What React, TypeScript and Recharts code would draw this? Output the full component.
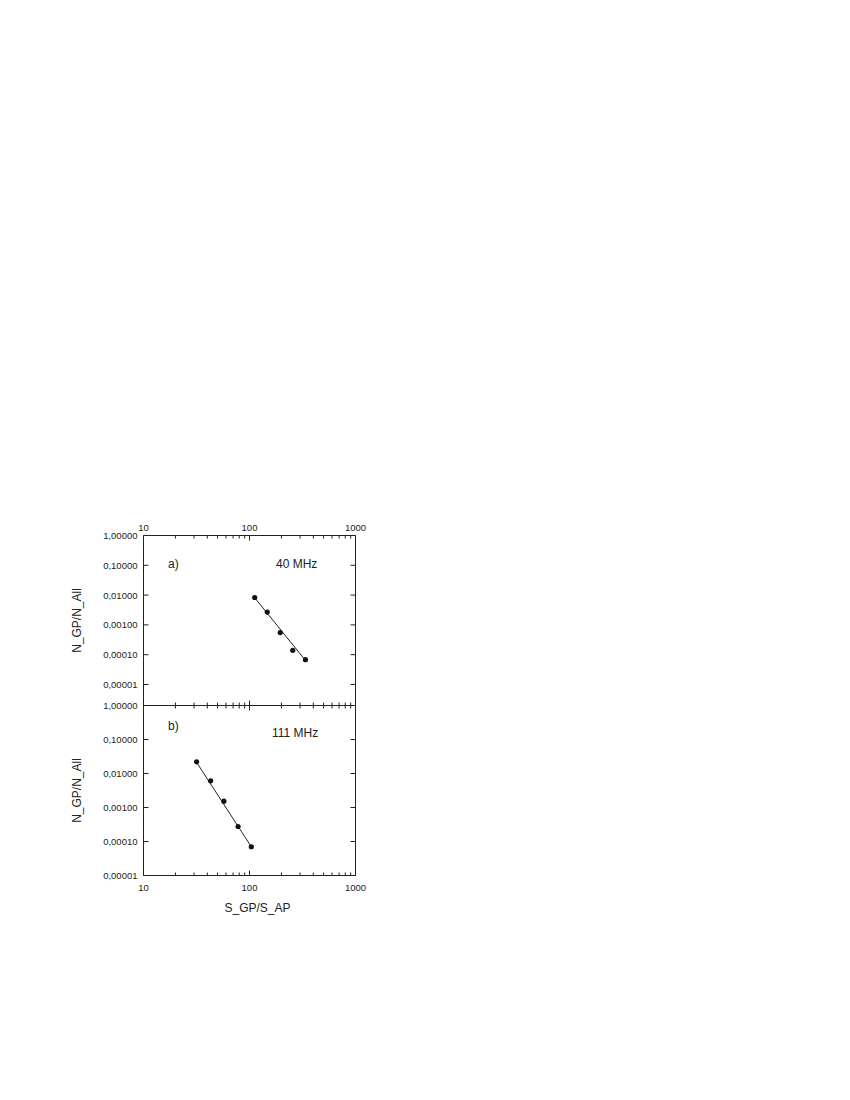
import React from "react";
import { ScatterChart, Scatter, XAxis, YAxis, Customized } from "recharts";

const xMajor = [10, 100, 1000];
const xMajorLabels = ["10", "100", "1000"];
const xMinor = [20, 30, 40, 50, 60, 70, 80, 90, 200, 300, 400, 500, 600, 700, 800, 900];
const xTicks = [...xMajor, ...xMinor].sort((a, b) => a - b);

const yMajor = [0.00001, 0.0001, 0.001, 0.01, 0.1, 1];
const yLabels = ["0,00001", "0,00010", "0,00100", "0,01000", "0,10000", "1,00000"];

// a) 40 MHz
const pts40 = [
  { x: 112, y: 0.0083 },
  { x: 147, y: 0.0027 },
  { x: 195, y: 0.00055 },
  { x: 256, y: 0.00014 },
  { x: 337, y: 0.000068 },
];
const fit40 = [
  { x: 110, y: 0.0088 },
  { x: 345, y: 0.000058 },
];

// b) 111 MHz
const pts111 = [
  { x: 31.7, y: 0.022 },
  { x: 43, y: 0.0061 },
  { x: 57.3, y: 0.00153 },
  { x: 78, y: 0.000276 },
  { x: 104, y: 0.00007 },
];
const fit111 = [
  { x: 31.5, y: 0.022 },
  { x: 104, y: 0.00007 },
];

const INK = "#222";
const FONT = "'Liberation Sans', Arial, sans-serif";
const TICK_FS = 9.5;

function xLabel(v: number) {
  const i = xMajor.indexOf(v);
  return i >= 0 ? xMajorLabels[i] : "";
}
function yLabel(v: number) {
  const i = yMajor.findIndex((m) => Math.abs(m - v) / m < 1e-6);
  return i >= 0 ? yLabels[i] : "";
}

// ticks are drawn inward, labels outward
function XTick(props: any) {
  const { x, y, payload, side, showLabel } = props;
  const major = xMajor.includes(payload.value);
  const len = major ? 5 : 3;
  const dir = side === "top" ? 1 : -1;
  return (
    <g>
      <line x1={x} x2={x} y1={y} y2={y + dir * len} stroke={INK} strokeWidth={1} />
      {showLabel && major && (
        <text
          x={x}
          y={side === "top" ? y - 5 : y + 15}
          textAnchor="middle"
          fontSize={TICK_FS}
          fontFamily={FONT}
          fill={INK}
        >
          {xLabel(payload.value)}
        </text>
      )}
    </g>
  );
}

function YTick(props: any) {
  const { x, y, payload, side, showLabel } = props;
  const dir = side === "left" ? 1 : -1;
  return (
    <g>
      <line x1={x} x2={x + dir * 5} y1={y} y2={y} stroke={INK} strokeWidth={1} />
      {showLabel && (
        <text
          x={x - 6}
          y={y + 3.5}
          textAnchor="end"
          fontSize={TICK_FS}
          fontFamily={FONT}
          fill={INK}
        >
          {yLabel(payload.value)}
        </text>
      )}
    </g>
  );
}

const Dot = (props: any) => <circle cx={props.cx} cy={props.cy} r={2.6} fill="#111" />;
const NoDot = () => <g />;

type PanelProps = {
  pts: { x: number; y: number }[];
  fit: { x: number; y: number }[];
  yMin: number;
  tag: string;
  freq: string;
  tagPos: [number, number];
  freqPos: [number, number];
  topLabels: boolean;
  bottomLabels: boolean;
  margin: { top: number; right: number; bottom: number; left: number };
  height: number;
  topH: number;
  bottomH: number;
};

function Panel(p: PanelProps) {
  return (
    <ScatterChart width={400} height={p.height} margin={p.margin}>
      <XAxis
        xAxisId="t"
        orientation="top"
        dataKey="x"
        type="number"
        scale="log"
        domain={[10, 1000]}
        allowDataOverflow
        ticks={xTicks}
        interval={0}
        height={p.topH}
        tickSize={0}
        tickMargin={0}
        tickLine={false}
        axisLine={{ stroke: INK }}
        tick={(t: any) => <XTick {...t} side="top" showLabel={p.topLabels} />}
      />
      <XAxis
        xAxisId="b"
        orientation="bottom"
        dataKey="x"
        type="number"
        scale="log"
        domain={[10, 1000]}
        allowDataOverflow
        ticks={xTicks}
        interval={0}
        height={p.bottomH}
        tickSize={0}
        tickMargin={0}
        tickLine={false}
        axisLine={{ stroke: INK }}
        tick={(t: any) => <XTick {...t} side="bottom" showLabel={p.bottomLabels} />}
        label={
          p.bottomLabels
            ? {
                value: "S_GP/S_AP",
                position: "insideBottom",
                offset: 0,
                dx: 8,
                fontSize: 12,
                fontFamily: FONT,
                fill: INK,
              }
            : undefined
        }
      />
      <YAxis
        yAxisId="l"
        orientation="left"
        dataKey="y"
        type="number"
        scale="log"
        domain={[p.yMin, 1]}
        allowDataOverflow
        ticks={yMajor}
        interval={0}
        width={100}
        tickSize={0}
        tickMargin={0}
        tickLine={false}
        axisLine={{ stroke: INK }}
        tick={(t: any) => <YTick {...t} side="left" showLabel />}
        label={{
          value: "N_GP/N_All",
          angle: -90,
          position: "insideLeft",
          offset: 33.5,
          style: { textAnchor: "middle" },
          fontSize: 12,
          fontFamily: FONT,
          fill: INK,
        }}
      />
      <YAxis
        yAxisId="r"
        orientation="right"
        dataKey="y"
        type="number"
        scale="log"
        domain={[p.yMin, 1]}
        allowDataOverflow
        ticks={yMajor}
        interval={0}
        width={10}
        tickSize={0}
        tickMargin={0}
        tickLine={false}
        axisLine={{ stroke: INK }}
        tick={(t: any) => <YTick {...t} side="right" showLabel={false} />}
      />
      <Scatter
        data={p.fit}
        xAxisId="b"
        yAxisId="l"
        line={{ stroke: INK, strokeWidth: 1 }}
        shape={NoDot}
        isAnimationActive={false}
      />
      <Scatter data={p.pts} xAxisId="b" yAxisId="l" shape={Dot} isAnimationActive={false} />
      <Customized
        component={() => (
          <g fontFamily={FONT} fontSize={12} fill={INK}>
            <text x={p.tagPos[0]} y={p.tagPos[1]} dominantBaseline="central">
              {p.tag}
            </text>
            <text x={p.freqPos[0]} y={p.freqPos[1]} dominantBaseline="central">
              {p.freq}
            </text>
          </g>
        )}
      />
    </ScatterChart>
  );
}

export default function App() {
  return (
    <div style={{ position: "relative", width: 834, height: 1084 }}>
      <div style={{ position: "absolute", left: 0, top: 500 }}>
        <Panel
          pts={pts40}
          fit={fit40}
          yMin={0.00000197}
          tag="a)"
          freq="40 MHz"
          tagPos={[160, 55.5]}
          freqPos={[268, 55.5]}
          topLabels
          bottomLabels={false}
          height={220}
          topH={20}
          bottomH={10}
          margin={{ top: 7.5, right: 42.5, bottom: 12.5, left: 35.5 }}
        />
      </div>
      <div style={{ position: "absolute", left: 0, top: 690 }}>
        <Panel
          pts={pts111}
          fit={fit111}
          yMin={0.00001}
          tag="b)"
          freq="111 MHz"
          tagPos={[160, 28]}
          freqPos={[264, 35]}
          topLabels={false}
          bottomLabels
          height={240}
          topH={5}
          bottomH={36}
          margin={{ top: 2.5, right: 42.5, bottom: 26.5, left: 35.5 }}
        />
      </div>
    </div>
  );
}
